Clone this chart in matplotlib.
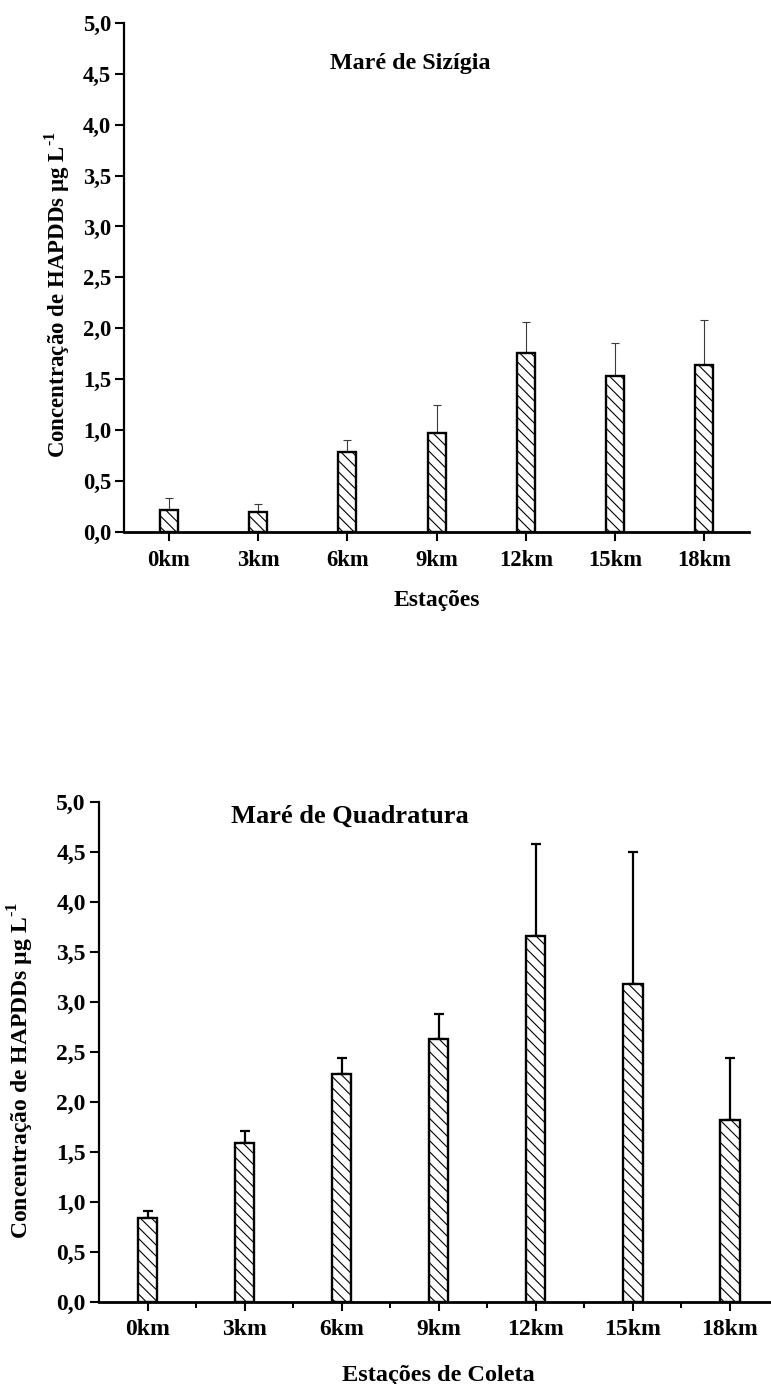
"""Concentração de HAPDDs por estação — marés de sizígia e quadratura."""

import matplotlib
matplotlib.use("Agg")
import matplotlib.pyplot as plt
import numpy as np
from matplotlib.ticker import FixedLocator, FuncFormatter, MultipleLocator

plt.rcParams["font.family"] = ["Liberation Serif", "DejaVu Serif"]
plt.rcParams["font.weight"] = "bold"
plt.rcParams["mathtext.fontset"] = "custom"
plt.rcParams["mathtext.rm"] = "Liberation Serif:bold"
plt.rcParams["mathtext.bf"] = "Liberation Serif:bold"
plt.rcParams["hatch.linewidth"] = 0.8

# --- data -------------------------------------------------------------
stations = ["0km", "3km", "6km", "9km", "12km", "15km", "18km"]

sizigia_mean = [0.21, 0.19, 0.78, 0.97, 1.76, 1.53, 1.64]
sizigia_sd = [0.125, 0.08, 0.12, 0.28, 0.305, 0.325, 0.445]

quadratura_mean = [0.84, 1.59, 2.28, 2.63, 3.655, 3.18, 1.82]
quadratura_sd = [0.07, 0.115, 0.16, 0.245, 0.925, 1.32, 0.62]

ylabel = r"Concentração de HAPDDs µg L$^{\text{-1}}$"

comma_fmt = FuncFormatter(lambda v, _: f"{v:.1f}".replace(".", ","))


def draw_panel(ax, means, sds, title, xlabel, err_color, err_lw, capsize,
               fs_tick, fs_xlabel, fs_ylabel, fs_title, title_xy, minor_ticks,
               xpad, xlabelpad, ylabel_xy):
    x = np.arange(len(stations))
    means = np.asarray(means)
    sds = np.asarray(sds)

    # only the upper half of the error bar is shown
    ax.errorbar(x, means, yerr=[np.zeros_like(sds), sds], fmt="none",
                ecolor=err_color, elinewidth=err_lw, capsize=capsize,
                capthick=err_lw, zorder=1)
    ax.bar(x, means, width=0.2, color="white", edgecolor="black",
           linewidth=1.7, hatch="\\\\\\", zorder=2)

    ax.set_xlim(-0.5, len(stations) - 0.5)
    ax.set_ylim(0, 5.0)
    ax.set_xticks(x)
    ax.set_xticklabels(stations)
    ax.yaxis.set_major_locator(MultipleLocator(0.5))
    ax.yaxis.set_major_formatter(comma_fmt)
    if minor_ticks:
        ax.xaxis.set_minor_locator(FixedLocator(x[:-1] + 0.5))
        ax.tick_params(axis="x", which="minor", direction="out", length=4,
                       width=1.4)

    ax.spines["top"].set_visible(False)
    ax.spines["right"].set_visible(False)
    ax.spines["left"].set_linewidth(1.6)
    ax.spines["bottom"].set_linewidth(2.0)
    ax.tick_params(axis="both", which="major", direction="out", length=6.5,
                   width=1.5, labelsize=fs_tick)
    ax.tick_params(axis="x", which="major", pad=xpad)
    ax.tick_params(axis="y", which="major", pad=3)

    ax.set_xlabel(xlabel, fontsize=fs_xlabel, fontweight="bold",
                  labelpad=xlabelpad)
    ax.set_ylabel(ylabel, fontsize=fs_ylabel, fontweight="bold")
    ax.yaxis.set_label_coords(*ylabel_xy)
    ax.text(title_xy[0], title_xy[1], title, transform=ax.transAxes,
            ha="center", va="baseline", fontsize=fs_title, fontweight="bold")


fig = plt.figure(figsize=(7.71, 13.84), dpi=100)

ax_top = fig.add_axes([0.1612, 0.6158, 0.8103, 0.3676])
draw_panel(ax_top, sizigia_mean, sizigia_sd, "Maré de Sizígia", "Estações",
           err_color="#3a3a3a", err_lw=0.8, capsize=3, fs_tick=16.3,
           fs_xlabel=17, fs_ylabel=16.5, fs_title=17.3,
           title_xy=(0.457, 0.909), minor_ticks=False, xpad=7, xlabelpad=13,
           ylabel_xy=(-0.083, 0.465))

ax_bot = fig.add_axes([0.1284, 0.0595, 0.8812, 0.3613])
draw_panel(ax_bot, quadratura_mean, quadratura_sd, "Maré de Quadratura",
           "Estações de Coleta", err_color="black", err_lw=1.6, capsize=3.3,
           fs_tick=17, fs_xlabel=17.5, fs_ylabel=17, fs_title=19,
           title_xy=(0.369, 0.957), minor_ticks=True, xpad=6, xlabelpad=18,
           ylabel_xy=(-0.092, 0.463))

fig.savefig("out.png", dpi=100, facecolor="white")
plt.close(fig)
